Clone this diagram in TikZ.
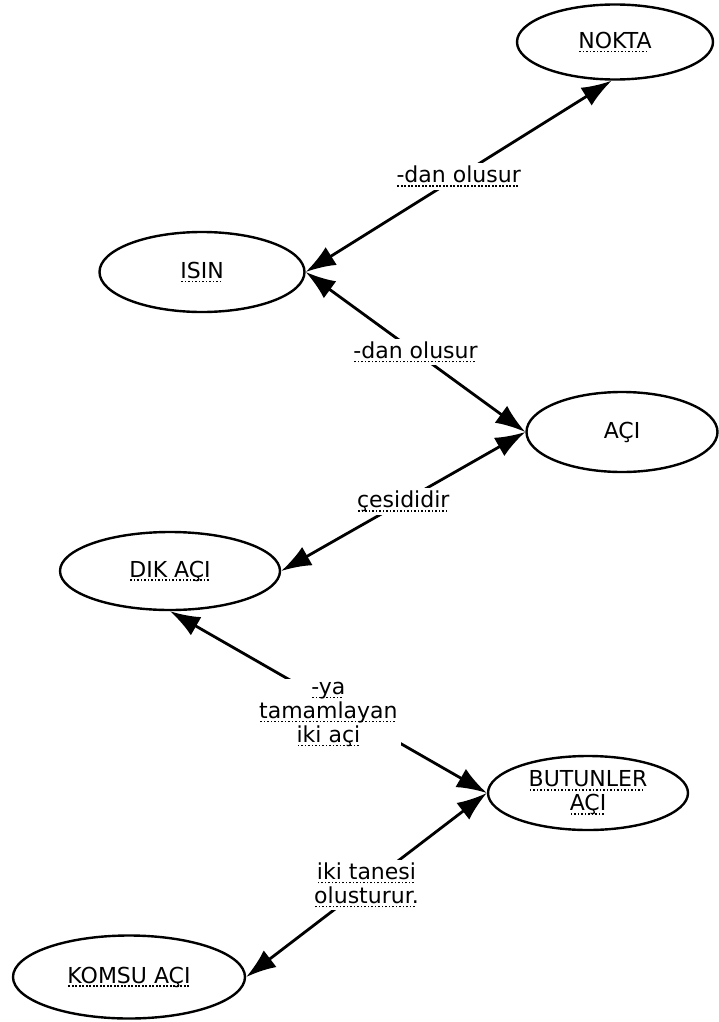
\documentclass[tikz,border=0pt]{standalone}
\usepackage{fontspec}
\setmainfont{DejaVu Sans}
\usetikzlibrary{shapes.geometric,arrows.meta}

%% dotted underline
\newlength{\dulwidth}
\newcommand{\dul}[1]{\settowidth{\dulwidth}{#1}\rlap{#1}\raisebox{-4pt}{\hbox to \dulwidth{\leaders\hbox to 3.5pt{\hss\rule{1.6pt}{1.6pt}\hss}\hfill}}}

\tikzset{
    concept/.style={draw,ellipse,line width=2.4pt,inner sep=0pt,align=center},
    link/.style={{Latex[length=30pt,width=21pt]}-{Latex[length=30pt,width=21pt]},line width=2.8pt},
    linklabel/.style={fill=white,inner sep=3pt,align=center}
}

\begin{document}
\begin{tikzpicture}[x=1pt,y=-1pt,font=\fontsize{22}{24}\selectfont]
    \useasboundingbox (0,0) rectangle (719,1022);
    %% concepts
    \node[concept,minimum width=196pt,minimum height=75pt] (nokta) at (615,42) {\dul{NOKTA}};
    \node[concept,minimum width=205pt,minimum height=80pt] (isin) at (202,272) {\dul{ISIN}};
    \node[concept,minimum width=191pt,minimum height=80pt] (aci) at (622,432) {AÇI};
    \node[concept,minimum width=220pt,minimum height=78pt] (dik) at (170,571) {\dul{DIK AÇI}};
    \node[concept,minimum width=200pt,minimum height=74pt] (butunler) at (588,793) {\dul{BUTUNLER}\\\dul{AÇI}};
    \node[concept,minimum width=232pt,minimum height=83pt] (komsu) at (129,977) {\dul{KOMSU AÇI}};
    %% links
    \draw[link] (isin.east) -- node[linklabel] {\dul{-dan olusur}} (nokta.265);
    \draw[link] (isin.east) -- node[linklabel] {\dul{-dan olusur}} (aci.west);
    \draw[link] (aci.west) -- node[linklabel] {\dul{çesididir}} (dik.east);
    \draw[link] (dik.south) -- node[linklabel,yshift=-12pt] {\dul{-ya}\\\dul{tamamlayan}\\\dul{iki açi}} (butunler.west);
    \draw[link] (butunler.west) -- node[linklabel] {\dul{iki tanesi}\\\dul{olusturur.}} (komsu.east);
\end{tikzpicture}
\end{document}
